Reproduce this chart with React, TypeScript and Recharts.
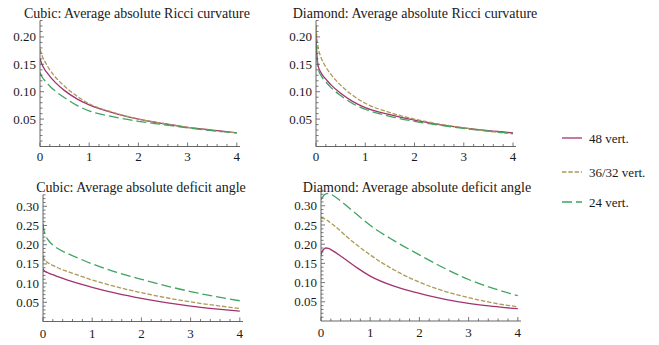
import React from 'react';
import { LineChart, Line, XAxis, YAxis } from 'recharts';

// ---------- data ----------
const xs = [0, 0.02, 0.05, 0.1, 0.15, 0.2, 0.3, 0.5, 0.75, 1, 1.5, 2, 2.5, 3, 3.5, 4];

const cubicRicci48 = [0.160, 0.155, 0.148, 0.140, 0.134, 0.128, 0.118, 0.102, 0.087, 0.076, 0.061, 0.050, 0.042, 0.035, 0.030, 0.025];
const cubicRicci36 = [0.178, 0.172, 0.164, 0.155, 0.147, 0.140, 0.128, 0.110, 0.092, 0.078, 0.062, 0.050, 0.042, 0.035, 0.029, 0.025];
const cubicRicci24 = [0.135, 0.131, 0.126, 0.120, 0.115, 0.110, 0.102, 0.089, 0.075, 0.065, 0.054, 0.046, 0.040, 0.034, 0.029, 0.025];

const diamondRicci48 = [0.200, 0.165, 0.145, 0.135, 0.128, 0.123, 0.113, 0.097, 0.082, 0.071, 0.058, 0.048, 0.040, 0.034, 0.029, 0.025];
const diamondRicci36 = [0.220, 0.195, 0.178, 0.163, 0.153, 0.145, 0.132, 0.112, 0.093, 0.079, 0.062, 0.050, 0.041, 0.034, 0.028, 0.023];
const diamondRicci24 = [0.190, 0.160, 0.140, 0.130, 0.123, 0.118, 0.108, 0.093, 0.078, 0.068, 0.055, 0.046, 0.039, 0.033, 0.028, 0.024];

const cubicDeficit48 = [0.137, 0.133, 0.130, 0.127, 0.124, 0.122, 0.117, 0.108, 0.098, 0.089, 0.073, 0.060, 0.049, 0.040, 0.033, 0.027];
const cubicDeficit36 = [0.171, 0.163, 0.158, 0.153, 0.149, 0.146, 0.140, 0.130, 0.119, 0.108, 0.090, 0.075, 0.062, 0.051, 0.042, 0.034];
const cubicDeficit24 = [0.254, 0.237, 0.225, 0.213, 0.205, 0.199, 0.190, 0.177, 0.163, 0.150, 0.128, 0.110, 0.093, 0.078, 0.065, 0.054];

const diamondDeficit48 = [0.172, 0.180, 0.186, 0.190, 0.189, 0.186, 0.178, 0.160, 0.137, 0.117, 0.090, 0.072, 0.057, 0.046, 0.038, 0.032];
const diamondDeficit36 = [0.270, 0.268, 0.267, 0.264, 0.260, 0.255, 0.245, 0.222, 0.196, 0.172, 0.132, 0.101, 0.078, 0.061, 0.047, 0.037];
const diamondDeficit24 = [0.316, 0.320, 0.326, 0.331, 0.332, 0.330, 0.322, 0.302, 0.275, 0.249, 0.208, 0.172, 0.138, 0.108, 0.085, 0.066];

const seriesNames = ['48 vert.', '36/32 vert.', '24 vert.'];
const titles = [
  'Cubic: Average absolute Ricci curvature',
  'Diamond: Average absolute Ricci curvature',
  'Cubic: Average absolute deficit angle',
  'Diamond: Average absolute deficit angle',
];

const xMajorTicks = [0, 1, 2, 3, 4];
const yMajorTicksTop = [0.05, 0.10, 0.15, 0.20];
const yMajorTicksBottom = [0.05, 0.10, 0.15, 0.20, 0.25, 0.30];

// ---------- styles ----------
const W = 659;
const H = 345;
const FONT = 'Liberation Serif, Times New Roman, Times, DejaVu Serif, serif';
const AXIS = '#555555';
const TEXT = '#1a1a1a';
const COLORS = ['#a2336f', '#ab9a58', '#3fa460'];
const DASH = [undefined, '4.5 1.8', '10 4'];

const buildRows = (a: number[], b: number[], c: number[]) =>
  xs.map((x, i) => ({ x, s0: a[i], s1: b[i], s2: c[i] }));

const withMinor = (major: number[], step: number, max: number) => {
  const out: number[] = [];
  const n = Math.floor(max / step + 1e-6);
  for (let i = 1; i <= n; i++) out.push(+(i * step).toFixed(4));
  major.forEach((m) => {
    if (!out.some((v) => Math.abs(v - m) < 1e-6)) out.push(m);
  });
  return out.sort((a, b) => a - b);
};

const xTicksAll = (() => {
  const out: number[] = [];
  for (let i = 0; i <= 20; i++) out.push(+(i * 0.2).toFixed(4));
  return out;
})();

const isIn = (arr: number[], v: number) => arr.some((m) => Math.abs(m - v) < 1e-6);

const makeXTick = (labelOffset: number) => (props: any) => {
  const { x, y, payload } = props;
  const v = payload.value as number;
  const major = isIn(xMajorTicks, v);
  return (
    <g>
      <line x1={x} x2={x} y1={y} y2={y - (major ? 4 : 2.5)} stroke={AXIS} strokeWidth={0.8} />
      {major && (
        <text x={x} y={y + labelOffset} textAnchor="middle" fontFamily={FONT} fontSize={13} fill={TEXT}>
          {String(v)}
        </text>
      )}
    </g>
  );
};

const makeYTick = (majors: number[]) => (props: any) => {
  const { x, y, payload } = props;
  const v = payload.value as number;
  const major = isIn(majors, v);
  return (
    <g>
      <line x1={x} x2={x + (major ? 4 : 2.5)} y1={y} y2={y} stroke={AXIS} strokeWidth={0.8} />
      {major && (
        <text x={x - 4} y={y} dy="0.35em" textAnchor="end" fontFamily={FONT} fontSize={13} fill={TEXT}>
          {v.toFixed(2)}
        </text>
      )}
    </g>
  );
};

type PanelProps = {
  rows: any[];
  plotLeft: number;
  plotTop: number;
  plotW: number;
  plotH: number;
  xMax: number;
  yMax: number;
  yMajors: number[];
  xLabelOffset: number;
};

const AX = 1; // axis band size

const Panel = ({ rows, plotLeft, plotTop, plotW, plotH, xMax, yMax, yMajors, xLabelOffset }: PanelProps) => {
  const yTicks = withMinor(yMajors, 0.01, yMax);
  return (
    <div style={{ position: 'absolute', left: 0, top: 0, width: W, height: H, pointerEvents: 'none' }}>
      <LineChart
        width={W}
        height={H}
        data={rows}
        margin={{ left: plotLeft - AX, top: plotTop, right: W - plotLeft - plotW, bottom: H - plotTop - plotH - AX }}
        style={{ overflow: 'visible' }}
      >
        <XAxis
          dataKey="x"
          type="number"
          domain={[0, xMax]}
          ticks={xTicksAll}
          interval={0}
          height={AX}
          tickSize={0}
          tickMargin={0}
          tickLine={false}
          axisLine={{ stroke: AXIS, strokeWidth: 0.9 }}
          tick={makeXTick(xLabelOffset)}
          allowDecimals
          allowDataOverflow
        />
        <YAxis
          type="number"
          domain={[0, yMax]}
          ticks={yTicks}
          interval={0}
          width={AX}
          tickSize={0}
          tickMargin={0}
          tickLine={false}
          axisLine={{ stroke: AXIS, strokeWidth: 0.9 }}
          tick={makeYTick(yMajors)}
          allowDecimals
          allowDataOverflow
        />
        {[0, 1, 2].map((i) => (
          <Line
            key={i}
            dataKey={'s' + i}
            name={seriesNames[i]}
            type="monotone"
            stroke={COLORS[i]}
            strokeWidth={1.3}
            strokeDasharray={DASH[i]}
            dot={false}
            activeDot={false}
            isAnimationActive={false}
          />
        ))}
      </LineChart>
    </div>
  );
};

const Overlay = () => (
  <svg width={W} height={H} style={{ position: 'absolute', left: 0, top: 0 }}>
    <text x={137} y={13} dy="0.35em" textAnchor="middle" fontFamily={FONT} fontSize={14} fill={TEXT}>{titles[0]}</text>
    <text x={415} y={13} dy="0.35em" textAnchor="middle" fontFamily={FONT} fontSize={14} fill={TEXT}>{titles[1]}</text>
    <text x={141} y={187} dy="0.35em" textAnchor="middle" fontFamily={FONT} fontSize={14} fill={TEXT}>{titles[2]}</text>
    <text x={417} y={187} dy="0.35em" textAnchor="middle" fontFamily={FONT} fontSize={14} fill={TEXT}>{titles[3]}</text>
    {seriesNames.map((name, i) => {
      const y = [138, 172, 202][i];
      return (
        <g key={name}>
          <line x1={562} x2={582} y1={y} y2={y} stroke={COLORS[i]} strokeWidth={1.3} strokeDasharray={DASH[i]} />
          <text x={589} y={y} dy="0.35em" fontFamily={FONT} fontSize={13} fill={TEXT}>{name}</text>
        </g>
      );
    })}
  </svg>
);

export default function App() {
  return (
    <div style={{ position: 'absolute', left: 0, top: 0, width: W, height: H, background: '#fff' }}>
      <Overlay />
      <Panel rows={buildRows(cubicRicci48, cubicRicci36, cubicRicci24)} plotLeft={40} plotTop={20.5} plotW={200} plotH={126} xMax={4.065} yMax={0.23} yMajors={yMajorTicksTop} xLabelOffset={14} />
      <Panel rows={buildRows(diamondRicci48, diamondRicci36, diamondRicci24)} plotLeft={316} plotTop={20.5} plotW={200} plotH={126} xMax={4.06} yMax={0.23} yMajors={yMajorTicksTop} xLabelOffset={14} />
      <Panel rows={buildRows(cubicDeficit48, cubicDeficit36, cubicDeficit24)} plotLeft={43} plotTop={194.8} plotW={200} plotH={126.7} xMax={4.065} yMax={0.33} yMajors={yMajorTicksBottom} xLabelOffset={16} />
      <Panel rows={buildRows(diamondDeficit48, diamondDeficit36, diamondDeficit24)} plotLeft={321} plotTop={190.4} plotW={200} plotH={130.6} xMax={4.065} yMax={0.34} yMajors={yMajorTicksBottom} xLabelOffset={16} />
    </div>
  );
}
